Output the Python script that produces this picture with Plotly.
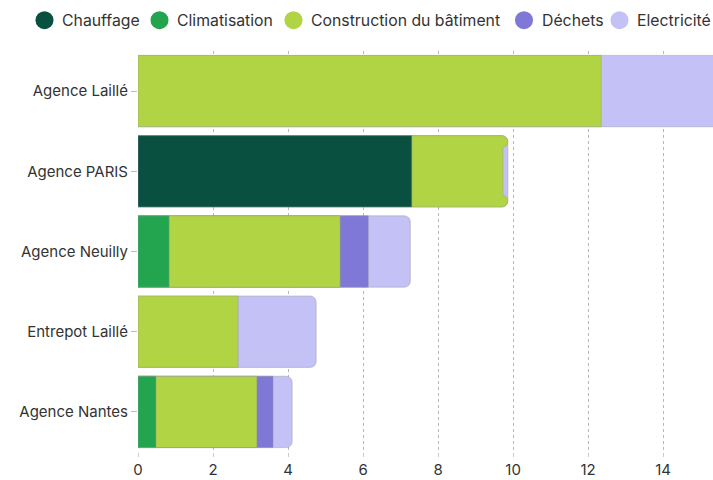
import plotly.graph_objects as go
import numpy as np

sites = ["Agence Laillé", "Agence PARIS", "Agence Neuilly", "Entrepot Laillé", "Agence Nantes"]
series_names = ["Chauffage", "Climatisation", "Construction du bâtiment", "Déchets", "Electricité"]
colors = ["#0a5040", "#23a550", "#b0d444", "#7f78d6", "#c3c1f5"]

chauffage = [0, 7.3, 0, 0, 0]
climatisation = [0, 0, 0.83, 0, 0.48]
construction = [12.35, 2.43, 4.56, 2.67, 2.69]
dechets = [0, 0, 0.75, 0, 0.43]
electricite = [3.6, 0.13, 1.12, 2.08, 0.51]

values = [chauffage, climatisation, construction, dechets, electricite]
cum = np.cumsum(np.array(values), axis=0)

# layout geometry (pixels within the page)
W, H = 713, 480
ML, MT, PW, PH = 138, 50.5, 575, 401.5
legend_centers_px = [44.5, 159.5, 293.5, 524, 619.5]   # circle centres, pixel x
legend_y_px = 19.7

fig = go.Figure()
# draw back to front: last series (largest cumulative) first
for i in reversed(range(len(series_names))):
    xs = [c if v > 0 else None for c, v in zip(cum[i], values[i])]
    fig.add_trace(go.Bar(
        y=sites, x=xs, orientation="h", name=series_names[i],
        marker=dict(color=colors[i], line=dict(color="rgba(150,150,150,0.45)", width=1)),
        showlegend=False, hoverinfo="skip",
    ))

# custom legend: circles + text
shapes, annotations = [], []
ly = (PH + MT - legend_y_px) / PH
for i, name in enumerate(series_names):
    cx = (legend_centers_px[i] - ML) / PW
    shapes.append(dict(
        type="circle", xref="paper", yref="paper",
        xsizemode="pixel", ysizemode="pixel", xanchor=cx, yanchor=ly,
        x0=-9, x1=9, y0=-9, y1=9,
        fillcolor=colors[i], line=dict(width=0),
    ))
    annotations.append(dict(
        xref="paper", yref="paper", x=cx + 15.5 / PW, y=ly,
        xanchor="left", yanchor="middle", text=name, showarrow=False,
        font=dict(family="Inter", size=15.8, color="#333333"),
    ))

fig.update_layout(
    width=W, height=H,
    barmode="overlay",
    bargap=0.11,
    barcornerradius=6,
    showlegend=False,
    plot_bgcolor="white", paper_bgcolor="white",
    margin=dict(l=ML, r=W - ML - PW, t=MT, b=H - MT - PH, autoexpand=False),
    font=dict(family="Inter", size=15, color="#333333"),
    shapes=shapes, annotations=annotations,
    xaxis=dict(
        range=[0, 15.33], dtick=2, showgrid=True, gridcolor="#b8b8b8",
        griddash="dot", gridwidth=1, zeroline=False, showline=False,
        ticks="outside", ticklen=4, tickcolor="#cccccc", ticklabelstandoff=0,
        tickfont=dict(size=15, color="#333333"), automargin=False,
    ),
    yaxis=dict(
        categoryorder="array", categoryarray=sites, autorange="reversed",
        showgrid=False, zeroline=False, showline=False,
        ticks="outside", ticklen=6, tickcolor="#bbbbbb",
        tickfont=dict(size=15, color="#333333"), automargin=False,
    ),
)

fig.write_html(
    "out.html",
    config={"displayModeBar": False, "staticPlot": True},
    post_script="document.body.style.margin='0';document.body.style.overflow='hidden';",
)
